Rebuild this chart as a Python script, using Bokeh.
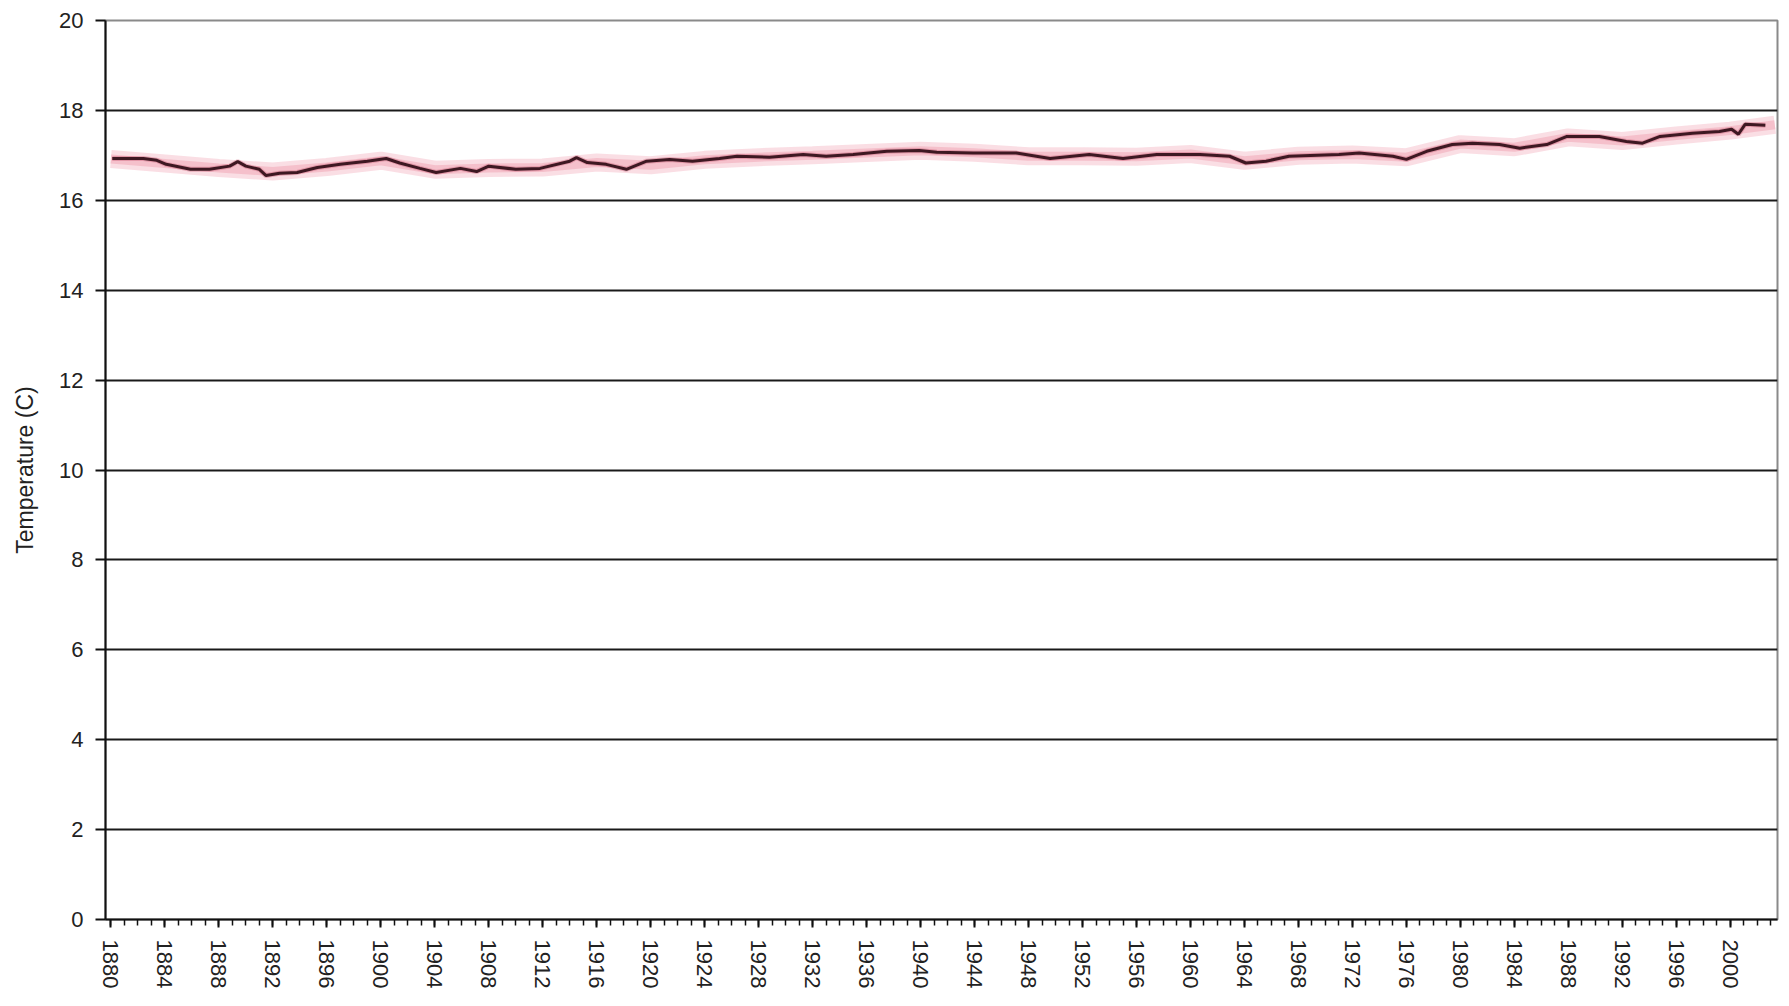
import math
from bokeh.plotting import figure
from bokeh.models import SingleIntervalTicker, Range1d
from bokeh.embed import file_html
from bokeh.resources import INLINE

# ---- data ----
years = [1880.1, 1882.4, 1883.4, 1884.1, 1885.9, 1887.3, 1888.8, 1889.4, 1890.0, 1891.0,
         1891.5, 1892.5, 1893.8, 1895.3, 1897.0, 1899.0, 1900.4, 1901.4, 1902.9, 1904.1,
         1905.9, 1907.1, 1908.0, 1910.0, 1911.8, 1914.0, 1914.5, 1915.3, 1916.7, 1918.2,
         1919.7, 1921.4, 1923.1, 1925.1, 1926.4, 1928.8, 1931.3, 1933.0, 1935.0, 1937.5,
         1939.9, 1941.2, 1943.9, 1947.1, 1949.6, 1952.5, 1955.0, 1957.5, 1960.7, 1962.9,
         1964.1, 1965.6, 1967.3, 1971.0, 1972.5, 1975.0, 1976.0, 1977.5, 1979.4, 1980.9,
         1982.9, 1984.4, 1986.4, 1987.9, 1990.3, 1992.3, 1993.5, 1994.8, 1997.2, 1999.2,
         2000.1, 2000.6, 2001.1, 2002.6]
temperature = [16.93, 16.93, 16.89, 16.80, 16.69, 16.69, 16.76, 16.86, 16.76, 16.69,
               16.55, 16.60, 16.62, 16.73, 16.80, 16.87, 16.93, 16.83, 16.71, 16.62,
               16.71, 16.64, 16.76, 16.69, 16.71, 16.87, 16.95, 16.84, 16.80, 16.69,
               16.87, 16.91, 16.87, 16.93, 16.98, 16.96, 17.02, 16.98, 17.02, 17.09,
               17.11, 17.07, 17.05, 17.05, 16.93, 17.02, 16.93, 17.02, 17.02, 16.98,
               16.83, 16.87, 16.98, 17.02, 17.05, 16.98, 16.91, 17.09, 17.24, 17.27,
               17.24, 17.16, 17.24, 17.42, 17.42, 17.31, 17.27, 17.42, 17.49, 17.53,
               17.58, 17.47, 17.69, 17.67]

smooth_years = [1880.0, 1884.0, 1888.0, 1892.0, 1896.0, 1900.0, 1904.0, 1908.0, 1912.0,
                1916.0, 1920.0, 1924.0, 1928.0, 1932.0, 1936.0, 1940.0, 1944.0, 1948.0,
                1952.0, 1956.0, 1960.0, 1964.0, 1968.0, 1972.0, 1976.0, 1980.0, 1984.0,
                1988.0, 1992.0, 1996.0, 2000.0, 2003.3]
smooth_temp = [16.92, 16.82, 16.72, 16.64, 16.74, 16.88, 16.68, 16.72, 16.73, 16.84,
               16.78, 16.90, 16.96, 17.00, 17.05, 17.10, 17.06, 16.98, 16.98, 16.97,
               17.03, 16.88, 16.99, 17.02, 16.96, 17.25, 17.18, 17.40, 17.32, 17.44,
               17.55, 17.68]

y_ticks = list(range(0, 21, 2))

FONT = "Liberation Sans"

p = figure(width=1781, height=998, output_backend="svg", toolbar_location=None,
           title=None, x_range=Range1d(1879.6, 2003.5), y_range=Range1d(0, 20),
           min_border_left=105, min_border_right=4, min_border_top=20, min_border_bottom=79)

p.background_fill_color = "white"
p.border_fill_color = "white"
p.outline_line_color = "#8a8a8a"
p.outline_line_width = 2

# pink smoothed band + darker series
p.line(smooth_years, smooth_temp, line_color="#f8d0d8", line_width=18, line_alpha=0.7)
p.line(smooth_years, smooth_temp, line_color="#f2b3c0", line_width=9, line_alpha=0.7)
p.line(years, temperature, line_color="#c85a74", line_width=5, line_alpha=0.4)
p.line(years, temperature, line_color="#3e1822", line_width=3)

# x axis
p.xaxis.ticker = SingleIntervalTicker(interval=4, num_minor_ticks=4)
p.xaxis.major_label_orientation = -math.pi / 2
p.xaxis.major_label_text_font = FONT
p.xaxis.major_label_text_font_size = "22px"
p.xaxis.major_label_text_color = "#222222"
p.xaxis.major_label_standoff = 12
p.xaxis.axis_line_color = "#111111"
p.xaxis.axis_line_width = 2
p.xaxis.major_tick_out = 8
p.xaxis.major_tick_in = 0
p.xaxis.minor_tick_out = 6
p.xaxis.minor_tick_in = 0
p.xaxis.major_tick_line_color = "#111111"
p.xaxis.minor_tick_line_color = "#111111"
p.xaxis.major_tick_line_width = 2
p.xaxis.minor_tick_line_width = 1.5
p.xgrid.grid_line_color = None

# y axis
p.yaxis.ticker = y_ticks
p.yaxis.axis_label = "Temperature (C)"
p.yaxis.axis_label_text_font = FONT
p.yaxis.axis_label_text_font_style = "normal"
p.yaxis.axis_label_text_font_size = "23px"
p.yaxis.axis_label_text_color = "#222222"
p.yaxis.axis_label_standoff = 18
p.yaxis.major_label_text_font = FONT
p.yaxis.major_label_text_font_size = "22px"
p.yaxis.major_label_text_color = "#222222"
p.yaxis.major_label_standoff = 12
p.yaxis.axis_line_color = "#111111"
p.yaxis.axis_line_width = 2
p.yaxis.major_tick_out = 10
p.yaxis.major_tick_in = 0
p.yaxis.minor_tick_out = 0
p.yaxis.minor_tick_in = 0
p.yaxis.major_tick_line_color = "#111111"
p.yaxis.major_tick_line_width = 2

p.ygrid.ticker = y_ticks
p.ygrid.grid_line_color = "#1a1a1a"
p.ygrid.grid_line_width = 2

open("out.html", "w").write(file_html(p, INLINE))
